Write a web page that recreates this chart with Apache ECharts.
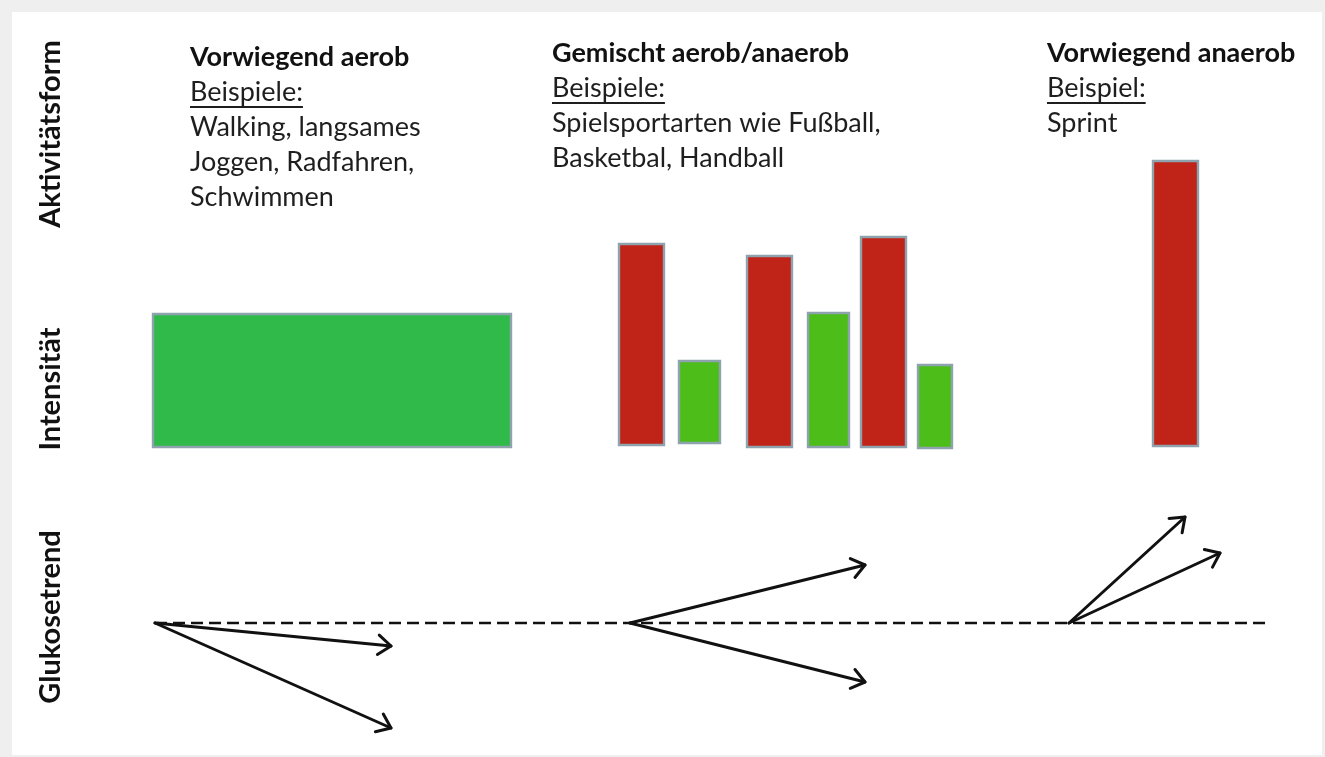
<!DOCTYPE html>
<html>
<head>
<meta charset="utf-8">
<script src="https://cdn.jsdelivr.net/npm/echarts@6/dist/echarts.min.js"></script>
<style>
html,body{margin:0;padding:0;background:#efefef;}
#chart{width:1325px;height:757px;}
</style>
</head>
<body>
<div id="chart"></div>
<script>
// ---- Data ----
// Intensity blocks (x = time position, y = intensity relative to baseline)
const barStart = [152, 618, 678, 746, 807, 860, 917, 1152];
const barEnd   = [512, 665, 721, 793, 850, 907, 953, 1199];
const barBase  = [0, 2, 4, 0, 0, 0, -1, 1];
const barTop   = [135, 205, 88, 193, 136, 212, 84, 288];
const barKind  = ['aerobBlock', 'anaerob', 'aerob', 'anaerob', 'aerob', 'anaerob', 'aerob', 'anaerob'];

// Glucose trend arrows
const trendOriginX = [155, 155, 630, 630, 1069, 1069];
const trendOriginY = [0, 0, 0, 0, 0, 0];
const trendTipX = [391, 391, 865, 865, 1185, 1220];
const trendTipY = [-23, -105, 58, -59, 106, 70];
const baselineX = [155, 1270];
const baselineY = [0, 0];

// Texts
const axisLabels = ['Aktivitätsform', 'Intensität', 'Glukosetrend'];
const columnTitles = ['Vorwiegend aerob', 'Gemischt aerob/anaerob', 'Vorwiegend anaerob'];
const columnExampleHeads = ['Beispiele:', 'Beispiele:', 'Beispiel:'];
const columnExamples = [
  ['Walking, langsames', 'Joggen, Radfahren,', 'Schwimmen'],
  ['Spielsportarten wie Fußball,', 'Basketbal, Handball'],
  ['Sprint']
];

// ---- Styling / layout ----
const kindColor = { aerobBlock: '#2fba4a', aerob: '#4dbe19', anaerob: '#c02317' };
const FONT = 'Lato, "Open Sans", sans-serif';
const BODY_SIZE = 27;
const TITLE_SIZE = 27;
const AXIS_SIZE = 29;

const colX = [190, 552, 1047];
const colTitleY = [44, 40, 40];   // top of title line
const lineStep = 35;

const chart = echarts.init(document.getElementById('chart'), null, { renderer: 'canvas' });

const canvas = document.createElement('canvas');
const ctx = canvas.getContext('2d');
function measure(text, font) { ctx.font = font; return ctx.measureText(text).width; }

function buildGraphics() {
  const g = [];
  g.push({ type: 'rect', shape: { x: 12, y: 12, width: 1310, height: 743 }, style: { fill: '#ffffff' }, z: -10 });
  const axisY = [134, 389, 617];
  axisLabels.forEach((t, i) => {
    g.push({
      type: 'text', x: 51, y: axisY[i], rotation: Math.PI / 2,
      style: { text: t, font: 'bold ' + AXIS_SIZE + 'px ' + FONT, fill: '#111', align: 'center', verticalAlign: 'middle' }
    });
  });
  columnTitles.forEach((t, i) => {
    let y = colTitleY[i];
    g.push({ type: 'text', x: colX[i], y: y, style: { text: t, font: 'bold ' + TITLE_SIZE + 'px ' + FONT, fill: '#111', align: 'left', verticalAlign: 'top' } });
    y += lineStep;
    const head = columnExampleHeads[i];
    const bodyFont = BODY_SIZE + 'px ' + FONT;
    g.push({ type: 'text', x: colX[i], y: y, style: { text: head, font: bodyFont, fill: '#1e1e1e', align: 'left', verticalAlign: 'top' } });
    const w = measure(head, bodyFont);
    g.push({ type: 'line', shape: { x1: colX[i], y1: y + 28, x2: colX[i] + w, y2: y + 28 }, style: { stroke: '#1e1e1e', lineWidth: 1.8 } });
    columnExamples[i].forEach((line) => {
      y += lineStep;
      g.push({ type: 'text', x: colX[i], y: y, style: { text: line, font: bodyFont, fill: '#1e1e1e', align: 'left', verticalAlign: 'top' } });
    });
  });
  return g;
}

const barData = barStart.map((s, i) => [s, barEnd[i], barBase[i], barTop[i], i]);
const arrowData = trendOriginX.map((x, i) => [x, trendOriginY[i], trendTipX[i], trendTipY[i]]);

const option = {
  backgroundColor: 'transparent',
  animation: false,
  grid: [
    { left: 0, right: 0, top: 100, bottom: 299 },
    { left: 0, right: 0, top: 473, bottom: 4 }
  ],
  xAxis: [
    { type: 'value', gridIndex: 0, min: 0, max: 1325, show: false },
    { type: 'value', gridIndex: 1, min: 0, max: 1325, show: false }
  ],
  yAxis: [
    { type: 'value', gridIndex: 0, min: -10, max: 348, show: false },
    { type: 'value', gridIndex: 1, min: -130, max: 150, show: false }
  ],
  graphic: buildGraphics(),
  series: [
    {
      type: 'custom', xAxisIndex: 0, yAxisIndex: 0, clip: false,
      data: barData,
      renderItem: function (params, api) {
        const p0 = api.coord([api.value(0), api.value(3)]);
        const p1 = api.coord([api.value(1), api.value(2)]);
        const kind = barKind[api.value(4)];
        return {
          type: 'rect',
          shape: { x: p0[0] + 1, y: p0[1] + 1, width: p1[0] - p0[0] - 2, height: p1[1] - p0[1] - 2 },
          style: { fill: kindColor[kind], stroke: '#8ea3ae', lineWidth: 2.4 }
        };
      }
    },
    {
      type: 'line', xAxisIndex: 1, yAxisIndex: 1, symbol: 'none',
      data: baselineX.map((x, i) => [x, baselineY[i]]),
      lineStyle: { color: '#111', width: 2.6, type: [12, 6] }
    },
    {
      type: 'custom', xAxisIndex: 1, yAxisIndex: 1, clip: false,
      data: arrowData,
      renderItem: function (params, api) {
        const a = api.coord([api.value(0), api.value(1)]);
        const b = api.coord([api.value(2), api.value(3)]);
        const ang = Math.atan2(b[1] - a[1], b[0] - a[0]);
        const L = 16, h = 0.65;
        const h1 = [b[0] - L * Math.cos(ang - h), b[1] - L * Math.sin(ang - h)];
        const h2 = [b[0] - L * Math.cos(ang + h), b[1] - L * Math.sin(ang + h)];
        const st = { stroke: '#111', lineWidth: 3, fill: null, lineCap: 'round', lineJoin: 'round' };
        return {
          type: 'group',
          children: [
            { type: 'line', shape: { x1: a[0], y1: a[1], x2: b[0], y2: b[1] }, style: st },
            { type: 'polyline', shape: { points: [h1, b, h2] }, style: st }
          ]
        };
      }
    }
  ]
};
chart.setOption(option);
</script>
</body>
</html>
